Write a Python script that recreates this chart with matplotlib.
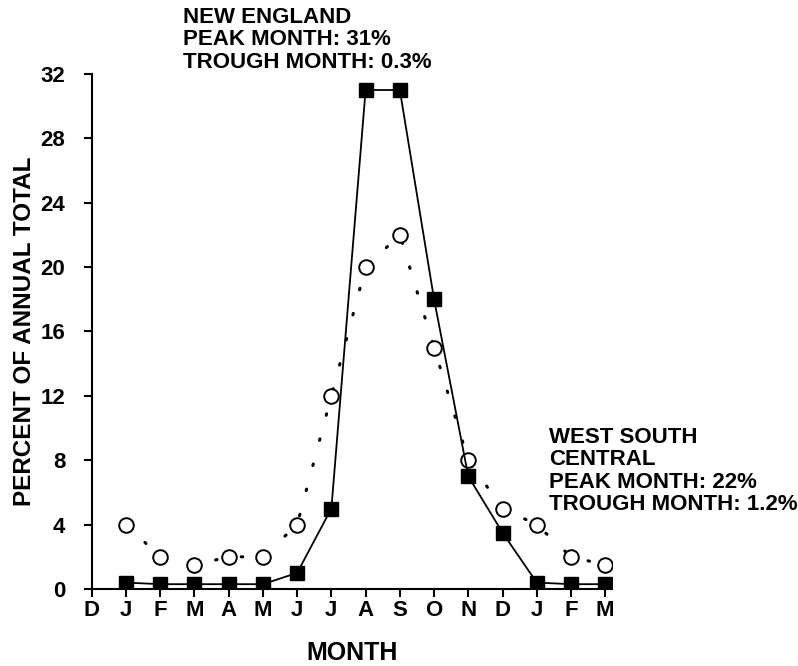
import numpy as np
import matplotlib.pyplot as plt

plt.rcParams['font.family'] = ['Liberation Sans', 'DejaVu Sans']
plt.rcParams['font.weight'] = 'bold'

month_labels = ['D', 'J', 'F', 'M', 'A', 'M', 'J', 'J', 'A', 'S', 'O', 'N', 'D', 'J', 'F', 'M']
x_pos = np.arange(1, 16)
new_england = [0.4, 0.3, 0.3, 0.3, 0.3, 1, 5, 31, 31, 18, 7, 3.5, 0.4, 0.3, 0.3]
west_south_central = [4, 2, 1.5, 2, 2, 4, 12, 20, 22, 15, 8, 5, 4, 2, 1.5]

fig = plt.figure(figsize=(7.98, 6.66), dpi=100)
ax = fig.add_axes([0.115, 0.1156, 0.652, 0.7734])

ax.plot(x_pos, west_south_central, color='black', linewidth=2.2,
        linestyle=(0, (0.5, 8)), dash_capstyle='round', zorder=2)
ax.plot(x_pos, west_south_central, 'o', markersize=10.5, markerfacecolor='white',
        markeredgecolor='black', markeredgewidth=1.4, linestyle='none', zorder=3)
ax.plot(x_pos, new_england, color='black', linewidth=1.3, marker='s',
        markersize=9.5, markerfacecolor='black', zorder=4)

ax.set_xlim(0, 15.2)
ax.set_ylim(0, 32)
ax.set_yticks(np.arange(0, 33, 4))
ax.set_xticks(np.arange(0, 16))
ax.set_xticklabels(month_labels)
ax.tick_params(axis='both', direction='out', length=6, width=1.5, labelsize=16)
ax.tick_params(axis='x', pad=2)
ax.tick_params(axis='y', pad=13)
for lab in ax.get_xticklabels() + ax.get_yticklabels():
    lab.set_fontweight('bold')
for s in ['top', 'right']:
    ax.spines[s].set_visible(False)
for s in ['left', 'bottom']:
    ax.spines[s].set_linewidth(1.5)

ax.set_xlabel('MONTH', fontsize=18, fontweight='bold', labelpad=14)
ax.set_ylabel('PERCENT OF ANNUAL TOTAL', fontsize=17.5, fontweight='bold', labelpad=3)

fig.text(183 / 798, 1 - 7 / 666, 'NEW ENGLAND\nPEAK MONTH: 31%\nTROUGH MONTH: 0.3%',
         fontsize=16, fontweight='bold', va='top', ha='left', linespacing=1.08)
fig.text(549 / 798, 1 - 427 / 666, 'WEST SOUTH\nCENTRAL\nPEAK MONTH: 22%\nTROUGH MONTH: 1.2%',
         fontsize=16, fontweight='bold', va='top', ha='left', linespacing=1.08)

fig.savefig('out.png', dpi=100)
